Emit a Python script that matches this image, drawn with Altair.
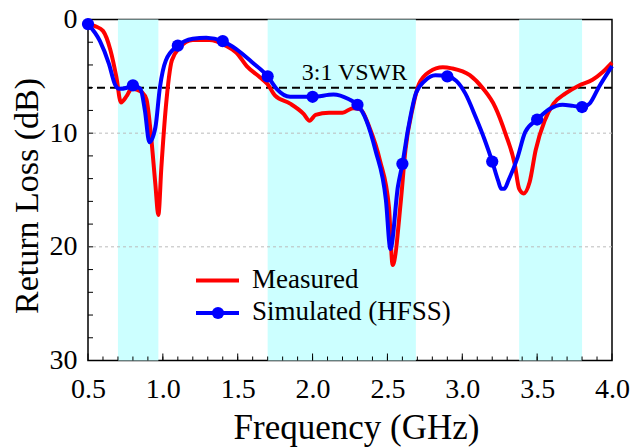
import altair as alt
import pandas as pd

# ---------------- data ----------------
meas_freq = [0.50, 0.55, 0.60, 0.65, 0.69, 0.72, 0.76, 0.79, 0.83, 0.86, 0.89, 0.92, 0.95, 0.97,
             0.99, 1.02, 1.06, 1.11, 1.20, 1.31, 1.42, 1.49, 1.56, 1.65, 1.70, 1.75, 1.85, 1.94,
             1.98, 2.02, 2.11, 2.20, 2.27, 2.32, 2.38, 2.45, 2.51, 2.535, 2.59, 2.62, 2.67, 2.71,
             2.78, 2.87, 2.93, 3.05, 3.14, 3.22, 3.29, 3.35, 3.38, 3.41, 3.45, 3.49, 3.55, 3.61,
             3.69, 3.78, 3.87, 3.94, 4.00]
meas_rl = [0.4, 0.6, 1.0, 2.7, 5.1, 7.3, 6.7, 6.1, 6.2, 6.4, 7.0, 10.1, 14.5, 17.2,
           13.0, 7.7, 3.6, 2.5, 1.8, 1.8, 2.3, 2.9, 4.1, 5.1, 5.7, 6.7, 7.4, 8.3,
           8.9, 8.4, 8.2, 8.2, 7.8, 7.9, 9.5, 12.4, 16.5, 21.6, 15.9, 11.5, 7.7, 5.7,
           4.6, 4.2, 4.3, 4.9, 6.1, 7.7, 10.1, 12.7, 14.9, 15.3, 14.3, 11.5, 8.9, 7.4,
           6.5, 5.8, 5.3, 4.6, 3.8]

sim_freq = [0.50, 0.58, 0.64, 0.68, 0.71, 0.76, 0.80, 0.85, 0.88, 0.91, 0.95, 0.98, 1.02, 1.10,
            1.20, 1.29, 1.40, 1.49, 1.60, 1.70, 1.76, 1.85, 2.00, 2.14, 2.24, 2.30, 2.36, 2.42,
            2.49, 2.52, 2.57, 2.60, 2.64, 2.69, 2.75, 2.82, 2.90, 2.96, 3.02, 3.09, 3.15, 3.20,
            3.24, 3.26, 3.28, 3.31, 3.37, 3.42, 3.50, 3.58, 3.67, 3.74, 3.80, 3.85, 3.91, 4.00]
sim_rl = [0.4, 1.9, 3.9, 5.7, 6.1, 6.0, 5.8, 6.1, 8.0, 10.8, 9.5, 6.0, 3.6, 2.3,
          1.7, 1.6, 1.9, 2.6, 3.8, 5.0, 6.1, 6.8, 6.8, 6.6, 7.0, 7.5, 8.9, 11.5,
          15.9, 20.2, 14.7, 12.7, 9.5, 6.5, 5.4, 4.9, 5.0, 5.4, 6.5, 8.6, 10.6, 12.5,
          14.2, 14.9, 14.9, 14.1, 12.1, 9.9, 8.8, 7.9, 7.5, 7.6, 7.7, 7.4, 6.0, 4.1]

sim_marker_freq = [0.5, 0.8, 1.1, 1.4, 1.7, 2.0, 2.3, 2.6, 2.9, 3.2, 3.5, 3.8]
sim_marker_rl = [0.4, 5.8, 2.3, 1.9, 5.0, 6.8, 7.5, 12.7, 5.0, 12.5, 8.8, 7.7]

band_start = [0.70, 1.70, 3.38]
band_end = [0.97, 2.69, 3.80]

grid_levels = [10, 20]
vswr_level = [6]
vswr_label = ["3:1 VSWR"]
vswr_label_x = [2.28]

x_tick_labels = [0.5, 1.0, 1.5, 2.0, 2.5, 3.0, 3.5, 4.0]
y_tick_labels = [0, 10, 20, 30]
x_minor_ticks = [round(0.5 + 0.1 * i, 2) for i in range(1, 35)]
y_minor_ticks = [2 * i for i in range(1, 15)]

series_names = ["Measured", "Simulated (HFSS)"]
series_colors = ["#ff0000", "#0000ff"]

# ---------------- layout ----------------
W, H = 524, 341
FONT = "Liberation Serif"

xscale = alt.Scale(domain=[0.5, 4.0], nice=False, zero=False)
yscale = alt.Scale(domain=[0, 30], reverse=True, nice=False, zero=False)

x_axis = alt.Axis(values=x_tick_labels, format=".1f", title="Frequency (GHz)",
                  labelFont=FONT, labelFontSize=28, labelColor="black",
                  labelBaseline="alphabetic", labelPadding=37, labelFlush=False,
                  labelOverlap=False, ticks=False, domain=False, grid=False,
                  titleFont=FONT, titleFontSize=35, titleFontWeight="normal",
                  titleColor="black", titleX=268, titleY=78, titleBaseline="alphabetic")
y_axis = alt.Axis(values=y_tick_labels, title="Return Loss (dB)",
                  labelFont=FONT, labelFontSize=28, labelColor="black",
                  labelPadding=11, labelFlush=False, labelOverlap=False,
                  ticks=False, domain=False, grid=False,
                  titleFont=FONT, titleFontSize=34, titleFontWeight="normal",
                  titleColor="black", titleX=-51, titleY=176, titleAngle=270,
                  titleBaseline="alphabetic")


def X(field):
    return alt.X(f"{field}:Q", scale=xscale, axis=x_axis)


def Y(field):
    return alt.Y(f"{field}:Q", scale=yscale, axis=y_axis)


meas_df = pd.DataFrame({"f": meas_freq, "rl": meas_rl})
sim_df = pd.DataFrame({"f": sim_freq, "rl": sim_rl})
mk_df = pd.DataFrame({"f": sim_marker_freq, "rl": sim_marker_rl})
band_df = pd.DataFrame({"f": band_start, "f2": band_end})
grid_df = pd.DataFrame({"rl": grid_levels})
vswr_df = pd.DataFrame({"rl": vswr_level})
vswr_txt_df = pd.DataFrame({"f": vswr_label_x, "rl": vswr_level, "t": vswr_label})

bands = alt.Chart(band_df).mark_rect(color="#ccffff").encode(
    x=X("f"), x2="f2:Q", y=alt.value(0), y2=alt.value(H))

grid = alt.Chart(grid_df).mark_rule(color="#bbbbbb", strokeWidth=1, strokeDash=[3, 3]).encode(
    y=Y("rl"))

x_minor = alt.Chart(pd.DataFrame({"f": x_minor_ticks})).mark_rule(color="black", strokeWidth=1).encode(
    x=X("f"), y=alt.value(H), y2=alt.value(H - 4))
x_major = alt.Chart(pd.DataFrame({"f": x_tick_labels})).mark_rule(color="black", strokeWidth=1).encode(
    x=X("f"), y=alt.value(H), y2=alt.value(H - 7))
y_minor = alt.Chart(pd.DataFrame({"rl": y_minor_ticks})).mark_rule(color="black", strokeWidth=1).encode(
    y=Y("rl"), x=alt.value(0), x2=alt.value(5))

vswr = alt.Chart(vswr_df).mark_rule(color="black", strokeWidth=2, strokeDash=[8, 5]).encode(
    y=Y("rl"))
vswr_text = alt.Chart(vswr_txt_df).mark_text(font=FONT, fontSize=24, color="black",
                                             baseline="alphabetic", dy=-8).encode(
    x=X("f"), y=Y("rl"), text="t:N")

meas_line = alt.Chart(meas_df).mark_line(color=series_colors[0], strokeWidth=4,
                                         interpolate="monotone").encode(x=X("f"), y=Y("rl"))
sim_line = alt.Chart(sim_df).mark_line(color=series_colors[1], strokeWidth=4,
                                       interpolate="monotone").encode(x=X("f"), y=Y("rl"))
sim_pts = alt.Chart(mk_df).mark_point(filled=True, color=series_colors[1], size=150,
                                      opacity=1).encode(x=X("f"), y=Y("rl"))

# ---------------- legend ----------------
leg_rows = [261, 293.5]
leg_layers = []
for i, (name, col) in enumerate(zip(series_names, series_colors)):
    d = pd.DataFrame({"label": [name]})
    leg_layers.append(alt.Chart(d).mark_rule(color=col, strokeWidth=4).encode(
        x=alt.value(108), x2=alt.value(151), y=alt.value(leg_rows[i])))
    leg_layers.append(alt.Chart(d).mark_text(font=FONT, fontSize=27, color="black",
                                             align="left", baseline="middle").encode(
        x=alt.value(164), y=alt.value(leg_rows[i] - 1), text="label:N"))
leg_layers.append(alt.Chart(pd.DataFrame({"label": [series_names[1]]})).mark_point(
    filled=True, color=series_colors[1], size=150, opacity=1).encode(
    x=alt.value(130), y=alt.value(leg_rows[1])))

chart = alt.layer(
    bands, grid, x_minor, x_major, y_minor, vswr, vswr_text,
    meas_line, sim_line, sim_pts, *leg_layers
).properties(
    width=W, height=H,
    autosize=alt.AutoSizeParams(type="none"),
    padding={"left": 88, "top": 19.5, "right": 25, "bottom": 87.5},
).configure_view(stroke="black", strokeWidth=1.5)

chart.save("out.html", embed_options={"renderer": "svg", "actions": False})
